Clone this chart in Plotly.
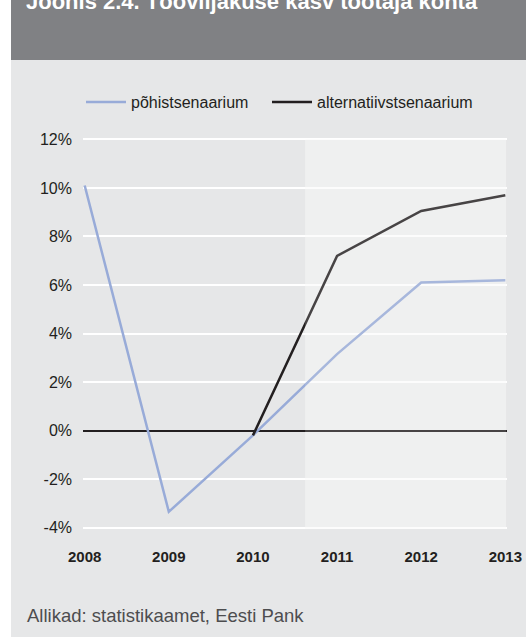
import plotly.graph_objects as go

years = [2008, 2009, 2010, 2011, 2012, 2013]
base_scenario = [10.1, -3.35, -0.2, 3.15, 6.1, 6.2]
alt_scenario = [None, None, -0.2, 7.2, 9.05, 9.7]
y_ticks = [-4, -2, 0, 2, 4, 6, 8, 10, 12]
y_tick_labels = ["-4%", "-2%", "0%", "2%", "4%", "6%", "8%", "10%", "12%"]
forecast_start = 2010.62
forecast_end = 2013.01

FONT = "Liberation Sans, Arial, Helvetica, sans-serif"
W, H = 526, 637
L, R, T, B = 83, 19, 138, 108
pw = W - L - R
ph = H - T - B


def px_x(p):
    return (p - L) / pw


def px_y(p):
    return (H - B - p) / ph


fig = go.Figure()
fig.add_trace(go.Scatter(x=years, y=base_scenario, mode="lines", name="põhistsenaarium",
                         line=dict(color="#98abd8", width=2.5), legend="legend"))
fig.add_trace(go.Scatter(x=years, y=alt_scenario, mode="lines", name="alternatiivstsenaarium",
                         line=dict(color="#231f20", width=2.5), legend="legend2"))

shapes = [
    # white strip at left
    dict(type="rect", xref="paper", yref="paper", x0=px_x(-5), x1=px_x(11), y0=px_y(H + 5), y1=px_y(-5),
         fillcolor="white", line=dict(width=0), layer="below"),
    # header band
    dict(type="rect", xref="paper", yref="paper", x0=px_x(11), x1=px_x(W + 5), y0=px_y(60), y1=px_y(-5),
         fillcolor="#808184", line=dict(width=0), layer="below"),
    # forecast region
    dict(type="rect", xref="x", yref="y", x0=forecast_start, x1=forecast_end, y0=-4, y1=12,
         fillcolor="#f0f1f1", line=dict(width=0), layer="below"),
    dict(type="rect", xref="x", yref="y", x0=forecast_start, x1=forecast_end, y0=-4.06, y1=12,
         fillcolor="rgba(240,241,241,0.18)", line=dict(width=0), layer="above"),
]

annotations = [
    dict(text="Joonis 2.4. Tööviljakuse kasv töötaja kohta", xref="paper", yref="paper",
         x=px_x(24), y=px_y(16), xanchor="left", yanchor="bottom", showarrow=False,
         font=dict(family=FONT, size=22, color="white", weight="bold")),
    dict(text="Allikad: statistikaamet, Eesti Pank", xref="paper", yref="paper",
         x=px_x(25), y=px_y(615), xanchor="left", yanchor="middle", showarrow=False,
         font=dict(family=FONT, size=18.5, color="#4d4d4f")),
]

legend_common = dict(orientation="h", yanchor="middle", xanchor="left",
                     bgcolor="rgba(0,0,0,0)", font=dict(size=16, color="#231f20"), itemwidth=40)

fig.update_layout(
    width=W, height=H,
    margin=dict(l=L, r=R, t=T, b=B, pad=0, autoexpand=False),
    paper_bgcolor="#e6e7e8",
    plot_bgcolor="#e6e7e8",
    font=dict(family=FONT, size=16, color="#231f20"),
    showlegend=True,
    legend=dict(x=px_x(81), y=px_y(102), **legend_common),
    legend2=dict(x=px_x(267), y=px_y(102), **legend_common),
    shapes=shapes,
    annotations=annotations,
    hovermode=False,
)
fig.update_xaxes(range=[2007.98, 2013.02], tickmode="array", tickvals=years,
                 ticktext=[str(y) for y in years], showgrid=False, zeroline=False,
                 showline=False, ticks="", ticklabelstandoff=17,
                 tickfont=dict(family=FONT, size=15, color="#231f20", weight="bold"))
fig.update_yaxes(range=[-4.06, 12.06], tickmode="array", tickvals=y_ticks, ticktext=y_tick_labels,
                 showgrid=True, gridcolor="white", gridwidth=2, zeroline=True,
                 zerolinecolor="#231f20", zerolinewidth=2, showline=False, ticks="",
                 ticklabelstandoff=10, tickfont=dict(family=FONT, size=16, color="#231f20"))

fig.write_html("out.html", config={"displayModeBar": False},
               post_script="document.body.style.margin='0';document.body.style.overflow='hidden';")
